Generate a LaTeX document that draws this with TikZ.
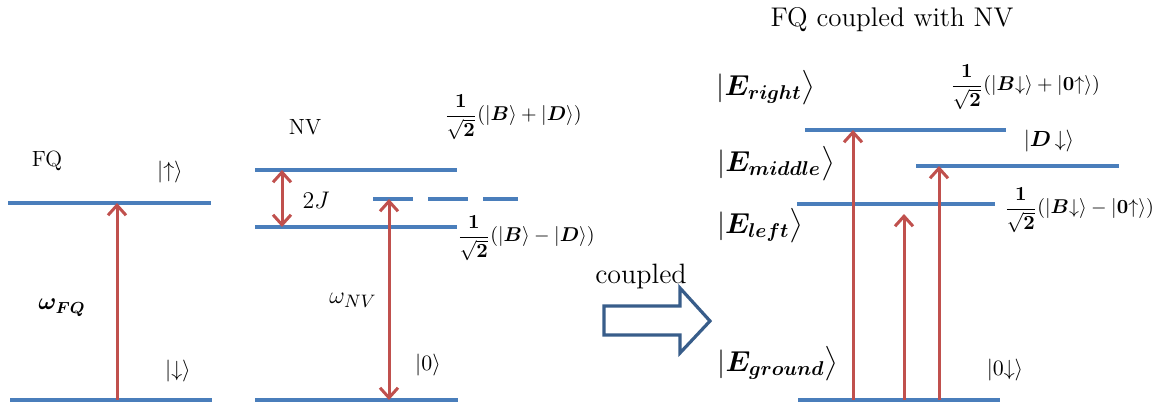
\documentclass[tikz,border=0pt]{standalone}
\usepackage{amsmath}
\usepackage{bm}
\usetikzlibrary{arrows.meta}
\definecolor{lvl}{RGB}{74,126,187}
\definecolor{arr}{RGB}{192,80,77}
\definecolor{blk}{RGB}{56,93,138}
\begin{document}
\begin{tikzpicture}[x=0.5pt,y=-0.5pt,
  level/.style={draw=lvl,line width=2.2pt},
  trans/.style={draw=arr,line width=1.5pt,-{Straight Barb[length=5pt,width=9pt]}},
  dtrans/.style={draw=arr,line width=1.5pt,{Straight Barb[length=5pt,width=9pt]}-{Straight Barb[length=5pt,width=9pt]}},
  lbl/.style={inner sep=0pt,font=\fontsize{11}{13}\selectfont},
  frac/.style={inner sep=0pt,anchor=west,font=\fontsize{10}{12}\selectfont},
  mid/.style={inner sep=0pt,font=\fontsize{12}{14}\selectfont},
  big/.style={inner sep=0pt,font=\fontsize{14}{16}\selectfont},
  ttl/.style={inner sep=0pt,font=\fontsize{13.5}{16}\selectfont},
  blockarrow/.style={draw=blk,line width=1.6pt,line join=miter,fill=white}]
\useasboundingbox (0,0) rectangle (1172,408);

% ---------- FQ ----------
\draw[level] (8,203) -- (211,203);
\draw[level] (10,400) -- (212,400);
\coordinate (fqD) at (117,400);
\coordinate (fqU) at (117,203);
\draw[trans] (fqD) -- (fqU);
\node[lbl] (fqlab) at (47,161) {FQ};
\node[lbl] (up) at (170,172) {$|{\uparrow}\rangle$};
\node[lbl] (dn) at (178,371) {$|{\downarrow}\rangle$};
\node[mid] (wfq) at (62,308) {$\bm{\omega_{FQ}}$};

% ---------- NV ----------
\draw[level] (255,170) -- (457,170);
\draw[level] (255,227) -- (457,227);
\draw[level] (255,400) -- (458,400);
\draw[draw=lvl,line width=2.2pt,dash pattern=on 20pt off 7.5pt] (373,199) -- (518,199);
\coordinate (nvT) at (282,170);
\coordinate (nvM) at (282,227);
\draw[dtrans] (nvT) -- (nvM);
\coordinate (nvG) at (389,400);
\coordinate (nvX) at (389,199);
\draw[dtrans] (nvG) -- (nvX);
\node[lbl] (nvlab) at (305,127) {NV};
\node[mid] (twoJ) at (316,200) {$2J$};
\node[mid,font=\fontsize{13}{15}\selectfont] (wnv) at (353,300) {$\omega_{NV}$};
\node[lbl] (zero) at (428,365) {$|0\rangle$};
\node[frac] (bpd) at (444,117) {$\dfrac{\bm{1}}{\sqrt{\bm{2}}}(|\bm{B}\rangle+|\bm{D}\rangle)$};
\node[frac] (bmd) at (457,238) {$\dfrac{\bm{1}}{\sqrt{\bm{2}}}(|\bm{B}\rangle-|\bm{D}\rangle)$};

% ---------- coupled arrow ----------
\node[big] (cpl) at (641,276) {coupled};
\draw[blockarrow] (604,306) -- (680,306) -- (680,288) -- (710,321) -- (680,353) -- (680,335) -- (604,335) -- cycle;

% ---------- coupled system ----------
\node[ttl] (title) at (892,20) {FQ coupled with NV};
\draw[level] (805,130) -- (1006,130);
\draw[level] (916,166) -- (1119,166);
\draw[level] (797,204) -- (995,204);
\draw[level] (798,400) -- (1000,400);
\coordinate (g1) at (853,400);
\coordinate (t1) at (853,130);
\coordinate (g2) at (904,400);
\coordinate (t2) at (904,214);
\coordinate (g3) at (939,400);
\coordinate (t3) at (939,166);
\draw[trans] (g1) -- (t1);
\draw[trans] (g2) -- (t2);
\draw[trans] (g3) -- (t3);
\node[big] (eR) at (766,88) {$|\bm{E_{right}}\big\rangle$};
\node[big] (eM) at (776,164) {$|\bm{E_{middle}}\big\rangle$};
\node[big] (eL) at (760,226) {$|\bm{E_{left}}\big\rangle$};
\node[big] (eG) at (778,364) {$|\bm{E_{ground}}\big\rangle$};
\node[frac] (rp) at (950,87) {$\dfrac{\bm{1}}{\sqrt{\bm{2}}}(|\bm{B}{\downarrow}\rangle+|\bm{0}{\uparrow}\rangle)$};
\node[lbl] (dd) at (1049,141) {$|\bm{D}\,{\downarrow}\rangle$};
\node[frac] (rm) at (1004,210) {$\dfrac{\bm{1}}{\sqrt{\bm{2}}}(|\bm{B}{\downarrow}\rangle-|\bm{0}{\uparrow}\rangle)$};
\node[lbl] (zd) at (1005,370) {$|0{\downarrow}\rangle$};
\end{tikzpicture}
\end{document}
